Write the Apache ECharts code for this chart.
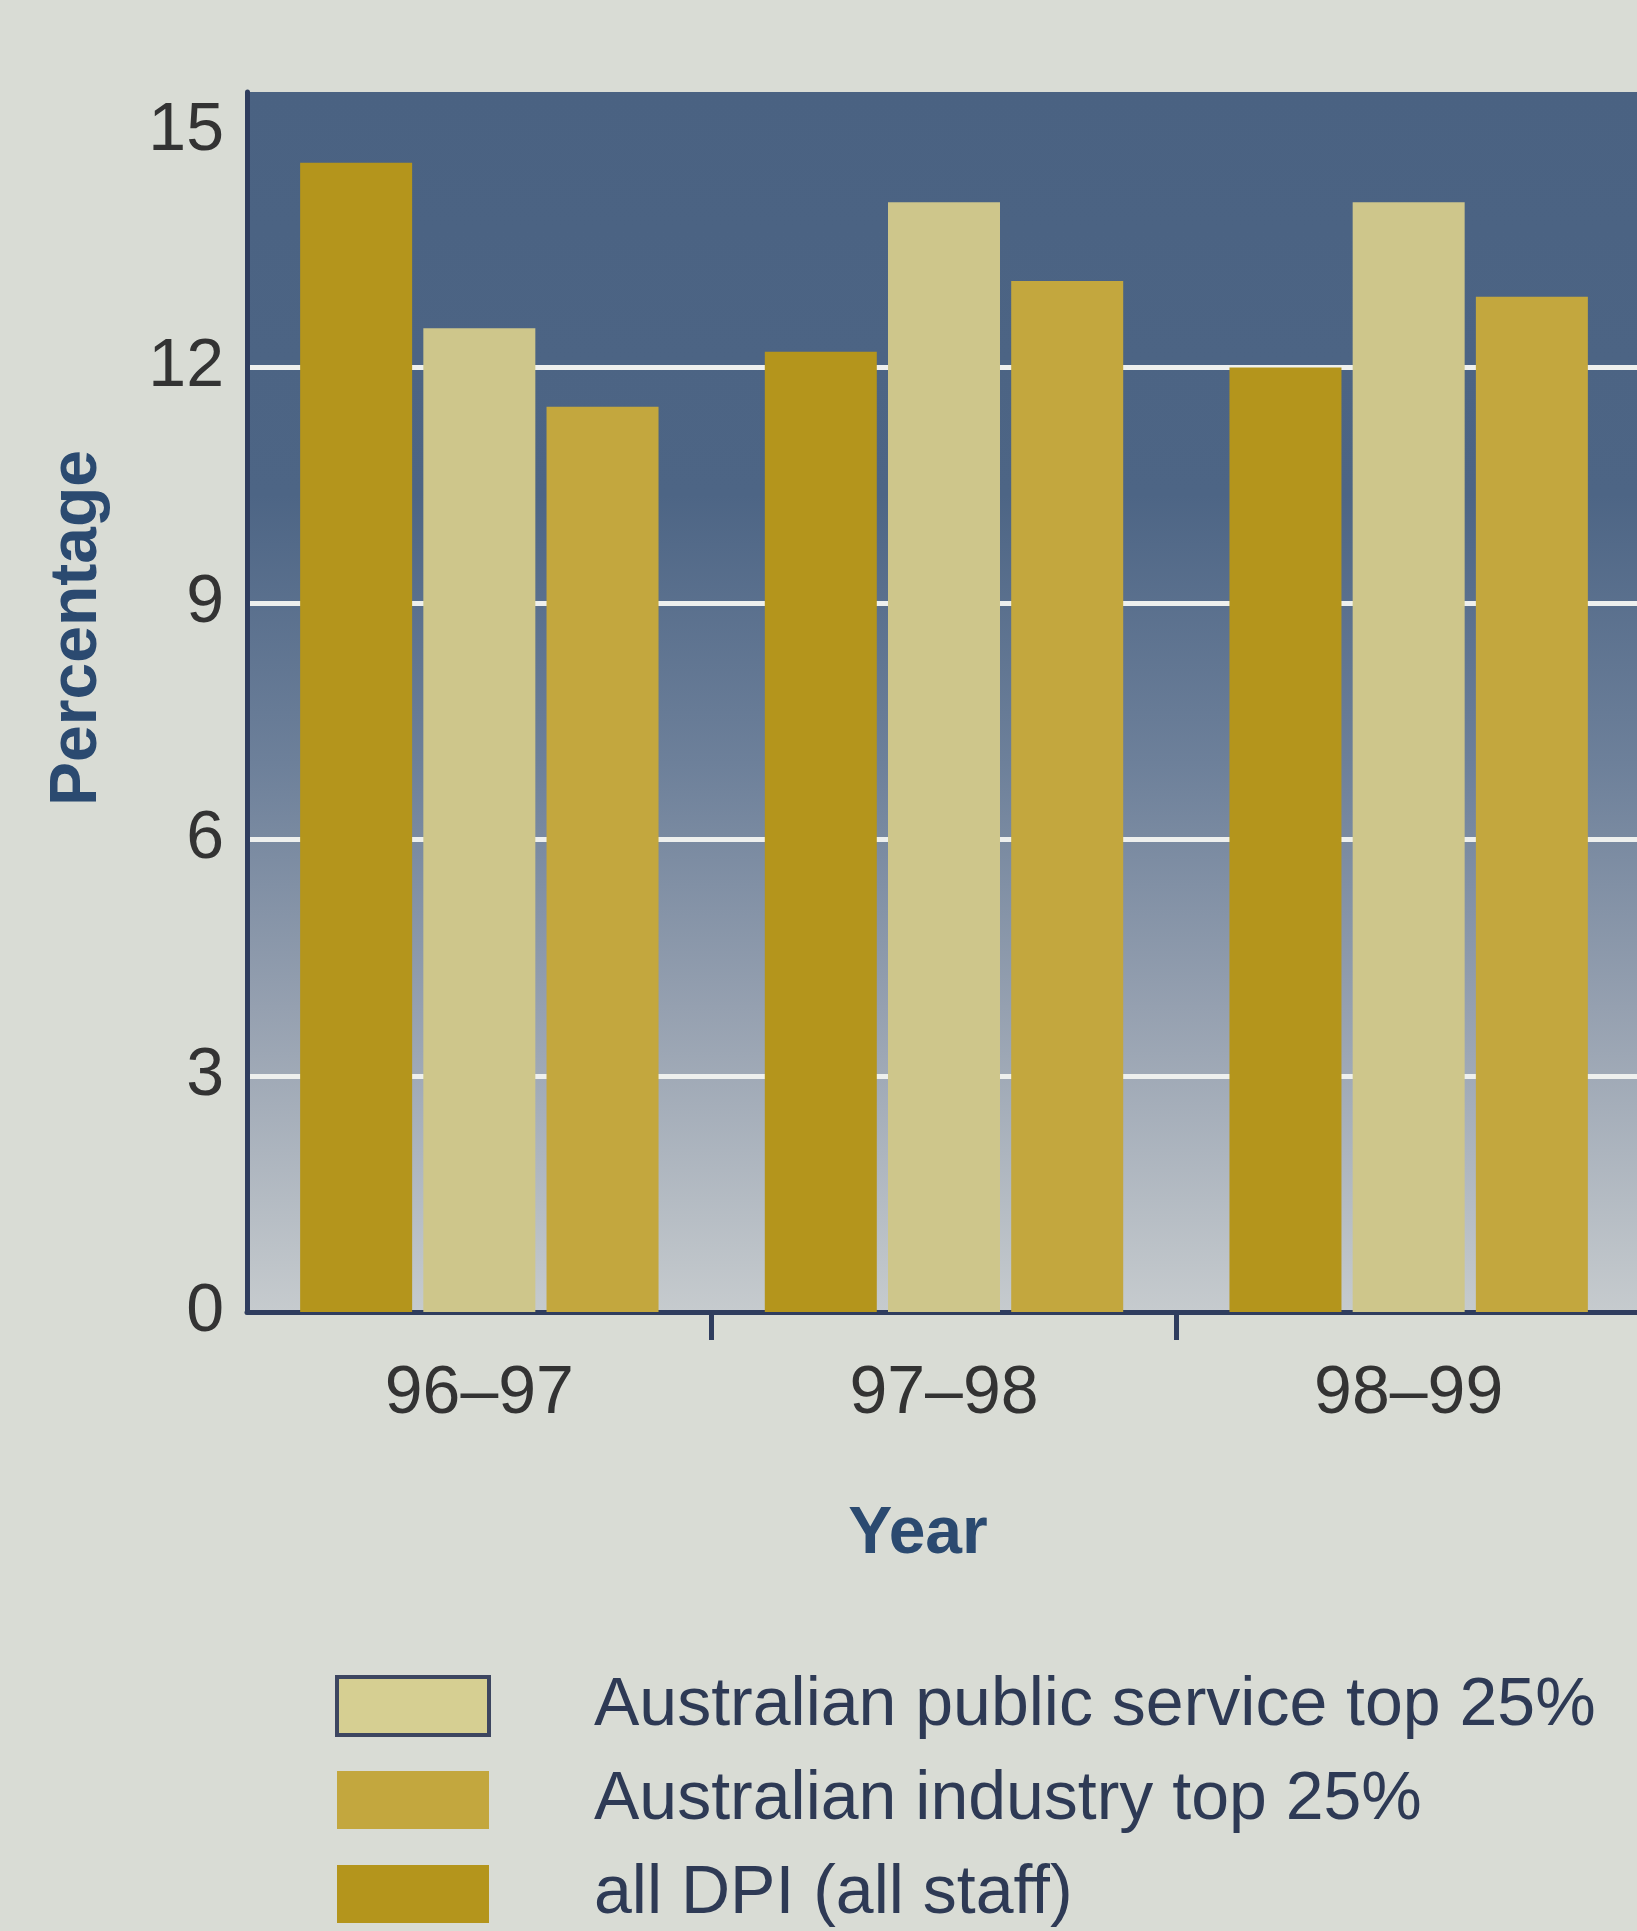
<!DOCTYPE html>
<html>
<head>
<meta charset="utf-8">
<script src="https://cdn.jsdelivr.net/npm/echarts@6/dist/echarts.min.js"></script>
<style>
  html, body { margin: 0; padding: 0; background: #d9dcd5; }
  #chart { width: 1637px; height: 1931px; }
</style>
</head>
<body>
<div id="chart"></div>
<script>
// ---- data ----
const categories = ['96–97', '97–98', '98–99'];
const seriesNames = ['all DPI (all staff)', 'Australian public service top 25%', 'Australian industry top 25%'];
const allDPI = [14.6, 12.2, 12.0];
const publicService = [12.5, 14.1, 14.1];
const industry = [11.5, 13.1, 12.9];
const legendOrder = ['Australian public service top 25%', 'Australian industry top 25%', 'all DPI (all staff)'];
const yTicks = [0, 3, 6, 9, 12, 15];

const FONT = "'Liberation Sans', Arial, sans-serif";
const NAVY = '#2f3d5e';
const colors = {
  'all DPI (all staff)': '#b4951c',
  'Australian public service top 25%': '#cec68b',
  'Australian industry top 25%': '#c3a73e'
};

const chart = echarts.init(document.getElementById('chart'), null, { renderer: 'canvas' });

const values = [allDPI, publicService, industry];

const option = {
  backgroundColor: '#d9dcd5',
  animation: false,
  grid: {
    left: 247, right: -4, top: 92, bottom: 619,
    outerBoundsMode: 'none',
    containLabel: false,
    show: true,
    borderWidth: 0,
    backgroundColor: {
      type: 'linear', x: 0, y: 0, x2: 0, y2: 1,
      colorStops: [
        { offset: 0, color: '#4a6282' },
        { offset: 0.33, color: '#4d6585' },
        { offset: 0.55, color: '#6d809a' },
        { offset: 0.75, color: '#95a0b0' },
        { offset: 1, color: '#c6cbce' }
      ]
    }
  },
  legend: {
    orient: 'vertical',
    left: 330,
    top: 1667,
    height: 262,
    itemWidth: 152,
    itemHeight: 58,
    itemGap: 26,
    icon: 'rect',
    selectedMode: false,
    data: legendOrder.map(n => n === 'Australian public service top 25%'
      ? { name: n, itemStyle: { color: '#d6cf92', borderColor: '#3d4660', borderWidth: 4 } }
      : { name: n }),
    textStyle: {
      fontFamily: FONT,
      fontSize: 68,
      lineHeight: 68,
      color: '#2e3a55',
      padding: [0, 0, 0, 100]
    }
  },
  xAxis: {
    type: 'category',
    data: categories,
    name: 'Year',
    nameLocation: 'middle',
    nameGap: 190,
    nameTextStyle: {
      fontFamily: FONT, fontSize: 66, fontWeight: 'bold', color: '#2b4a70',
      padding: [0, 52, 0, 0]
    },
    axisLine: { show: true, lineStyle: { color: NAVY, width: 5 } },
    axisTick: {
      show: true, length: 28, inside: false,
      lineStyle: { color: NAVY, width: 5 },
      interval: function (index) { return index === 1 || index === 2; }
    },
    axisLabel: {
      fontFamily: FONT, fontSize: 68, color: '#333333', margin: 48
    },
    splitLine: { show: false }
  },
  yAxis: {
    type: 'value',
    min: 0,
    max: 15.5,
    interval: 3,
    name: 'Percentage',
    nameLocation: 'middle',
    nameGap: 136,
    nameRotate: 90,
    nameTextStyle: {
      fontFamily: FONT, fontSize: 66, fontWeight: 'bold', color: '#2b4a70',
      padding: [0, 0, 0, 148]
    },
    axisLine: { show: true, lineStyle: { color: NAVY, width: 5 } },
    axisTick: { show: false },
    axisLabel: {
      fontFamily: FONT, fontSize: 68, color: '#333333', margin: 23,
      formatter: function (v) { return yTicks.indexOf(v) >= 0 ? String(v) : ''; }
    },
    splitLine: {
      show: true,
      lineStyle: {
        width: 5,
        color: ['rgba(0,0,0,0)', '#eef0ee', '#eef0ee', '#eef0ee', '#eef0ee', 'rgba(0,0,0,0)', 'rgba(0,0,0,0)']
      }
    }
  },
  series: seriesNames.map((name, i) => ({
    name: name,
    type: 'bar',
    data: values[i],
    barWidth: 112,
    barGap: '10%',
    itemStyle: { color: colors[name] }
  }))
};

chart.setOption(option);
</script>
</body>
</html>
